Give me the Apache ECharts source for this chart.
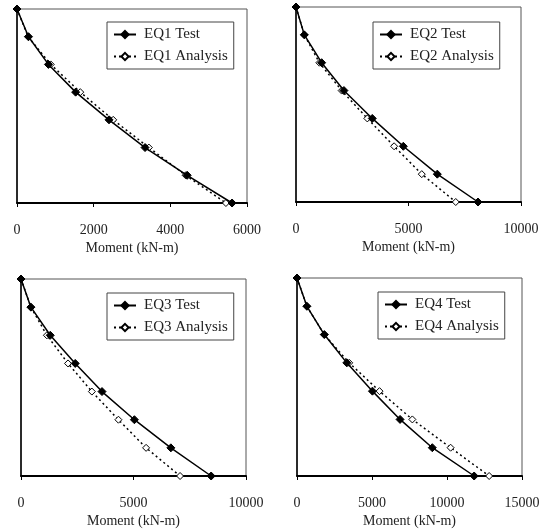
<!DOCTYPE html>
<html><head><meta charset="utf-8">
<script src="https://cdn.jsdelivr.net/npm/echarts@6/dist/echarts.min.js"></script>
<style>html,body{margin:0;padding:0;background:#fff}#c{width:549px;height:529px}</style>
</head><body><div id="c"></div>
<script>
var levels = [7, 6, 5, 4, 3, 2, 1, 0];
var eq1Test = [0, 300, 820, 1530, 2400, 3340, 4440, 5610];
var eq1Analysis = [0, 290, 880, 1650, 2510, 3440, 4400, 5450];
var eq2Test = [0, 370, 1140, 2130, 3390, 4770, 6280, 8090];
var eq2Analysis = [0, 370, 1040, 2030, 3170, 4360, 5590, 7100];
var eq3Test = [0, 440, 1300, 2410, 3600, 5040, 6660, 8450];
var eq3Analysis = [0, 440, 1150, 2090, 3150, 4330, 5560, 7070];
var eq4Test = [0, 660, 1820, 3320, 5030, 6870, 9020, 11810];
var eq4Analysis = [0, 660, 1820, 3480, 5500, 7690, 10240, 12810];
var xMax = [6000, 10000, 10000, 15000];
var xInterval = [2000, 5000, 5000, 5000];
var xName = 'Moment (kN-m)';
var names = [['EQ1 Test','EQ1 Analysis'],['EQ2 Test','EQ2 Analysis'],['EQ3 Test','EQ3 Analysis'],['EQ4 Test','EQ4 Analysis']];
var tests = [eq1Test, eq2Test, eq3Test, eq4Test];
var analyses = [eq1Analysis, eq2Analysis, eq3Analysis, eq4Analysis];

var font = 'Liberation Serif';
var grids = [
  {left:17, top:9, width:230, height:194},
  {left:296, top:7, width:225, height:195},
  {left:21, top:279, width:225, height:198},
  {left:297, top:278, width:225, height:199}
];
var legendPos = [
  {left:107, top:22},
  {left:373, top:22},
  {left:107, top:293},
  {left:378, top:292}
];
var option = {
  animation:false,
  backgroundColor:'#fff',
  grid: grids.map(function(g){return Object.assign({show:true, borderColor:'#555', borderWidth:1, backgroundColor:'transparent'}, g);}),
  xAxis: grids.map(function(g,i){return {
    gridIndex:i, type:'value', min:0, max:xMax[i], interval:xInterval[i],
    name:xName, nameLocation:'middle', nameGap:38,
    nameTextStyle:{fontFamily:font, fontSize:14, color:'#222'},
    axisLine:{show:true, onZero:false, lineStyle:{color:'#000', width:2}},
    axisTick:{show:true, inside:false, length:4, lineStyle:{color:'#000'}},
    axisLabel:{fontFamily:font, fontSize:14, color:'#222', margin:20, formatter:function(v){return String(v);}},
    splitLine:{show:false}
  };}),
  yAxis: grids.map(function(g,i){return {
    gridIndex:i, type:'value', min:0, max:7, interval:1,
    axisLine:{show:true, onZero:false, lineStyle:{color:'#000', width:1.5}},
    axisTick:{show:false}, axisLabel:{show:false}, splitLine:{show:false}
  };}),
  legend: legendPos.map(function(p,i){return {
    left:p.left, top:p.top, orient:'vertical', data:names[i],
    backgroundColor:'#fff', borderColor:'#444', borderWidth:1,
    padding:[5,6,5,6], itemGap:7, itemWidth:22, itemHeight:9,
    textStyle:{fontFamily:font, fontSize:15, color:'#222', padding:[0,0,0,3]}
  };}),
  series: []
};
for (var i = 0; i < 4; i++) {
  option.series.push({
    name:names[i][0], type:'line', xAxisIndex:i, yAxisIndex:i,
    data: tests[i].map(function(v,k){return [v, levels[k]];}),
    symbol:'diamond', symbolSize:8, z:3,
    itemStyle:{color:'#000', borderColor:'#000', borderWidth:1},
    lineStyle:{color:'#000', width:1.5, type:'solid'}
  });
  option.series.push({
    name:names[i][1], type:'line', xAxisIndex:i, yAxisIndex:i,
    data: analyses[i].map(function(v,k){return [v, levels[k]];}),
    symbol:'diamond', symbolSize:7, z:2,
    itemStyle:{color:'#fff', borderColor:'#000', borderWidth:1},
    lineStyle:{color:'#000', width:1.5, type:[2,3]}
  });
}
var chart = echarts.init(document.getElementById('c'), null, {renderer:'canvas'});
chart.setOption(option);
</script></body></html>
